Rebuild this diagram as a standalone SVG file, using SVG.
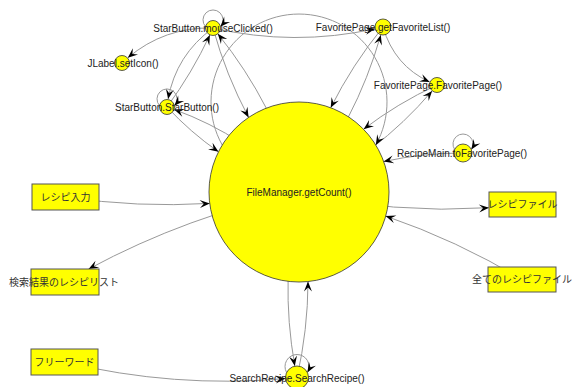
<svg xmlns="http://www.w3.org/2000/svg" width="572" height="387" viewBox="0 0 572 387">
<style>
.e{fill:none;stroke:#999;stroke-width:1;marker-end:url(#arr)}
.n{fill:#ffff00;stroke:#333;stroke-width:0.8}
.r{fill:#ffff00;stroke:#555;stroke-width:1}
.t{font-family:"Liberation Sans",Arial,sans-serif;font-size:10px;fill:#222;text-anchor:middle}
.j{font-family:"Noto Sans CJK JP","Liberation Sans",sans-serif;font-size:10px;fill:#333;text-anchor:middle}
</style>
<defs>
<marker id="arr" markerUnits="userSpaceOnUse" viewBox="-11 -5 12 10" markerWidth="12" markerHeight="10" refX="0" refY="0" orient="auto">
<path d="M0,0 L-10,4 L-6,0 L-10,-4 Z" fill="#000"/>
</marker>
</defs>
<rect width="572" height="387" fill="#fff"/>
<g id="connectors">
<path class="e" d="M213,28 Q164.3,26.9 127.8,57.8"/>
<path class="e" d="M213,28 Q176,55 168.1,99.1"/>
<path class="e" d="M167,107 Q192.1,73 209.9,34.9"/>
<path class="e" d="M213,28 Q226.1,75.2 248.6,117.4"/>
<path class="e" d="M299,192 Q274.7,104.4 217.8,33.8"/>
<path class="e" d="M167,107 Q190.7,132.5 218.5,151.8"/>
<path class="e" d="M299,192 Q246.4,135.5 174.2,109.5"/>
<path class="e" d="M213,28 Q294,46.6 375.1,28.8"/>
<path class="e" d="M299,192 Q356.2,121.8 380.8,34.9"/>
<path class="e" d="M383,27 Q352.1,64.9 330.7,107.8"/>
<path class="e" d="M383,27 Q394.3,65.7 429.7,82"/>
<path class="e" d="M437,85 Q397.4,103.4 363.6,129.2"/>
<path class="e" d="M299,192 Q376.8,155.9 432.1,90.9"/>
<path class="e" d="M463,153 Q422.3,153 383.6,161.6"/>
<path class="e" d="M65.5,197 Q137.8,207.8 209.8,203.4"/>
<path class="e" d="M299,192 Q188.1,215.5 88.6,269"/>
<path class="e" d="M299,192 Q393.1,214.3 489,207.7"/>
<path class="e" d="M522,279.5 Q456.7,240.4 385.6,216"/>
<path class="e" d="M299,192 Q279.3,278.8 294.8,366"/>
<path class="e" d="M297,377.5 Q307.9,329.6 308,281.5"/>
<path class="e" d="M64.5,362 Q173.8,388.3 285.5,378.6"/>
<path class="e" d="M205.6,26.7 A10,10 0 1 1 220.4,26.7"/>
<path class="e" d="M159.6,105.7 A10,10 0 1 1 174.4,105.7"/>
<path class="e" d="M454.7,149.6 A10,10 0 1 1 471.3,149.6"/>
<path class="e" d="M286.6,372.5 A12,12 0 1 1 307.4,372.5"/>
<path class="e" d="M222.2,145 A88,88 0 1 1 375.8,145"/>
</g>
<g id="n-filemanager"><circle class="n" cx="299" cy="192" r="90"/><text class="t" x="299" y="195.5">FileManager.getCount()</text></g>
<g id="n-mouseclicked"><circle class="n" cx="213" cy="28" r="7.5"/><text class="t" x="213" y="32">StarButton.mouseClicked()</text></g>
<g id="n-seticon"><circle class="n" cx="122" cy="63" r="7.5"/><text class="t" x="123" y="67">JLabel.setIcon()</text></g>
<g id="n-starbutton"><circle class="n" cx="167" cy="107" r="7.5"/><text class="t" x="167" y="111">StarButton.StarButton()</text></g>
<g id="n-getfavoritelist"><circle class="n" cx="383" cy="27" r="8"/><text class="t" x="383" y="30.5">FavoritePage.getFavoriteList()</text></g>
<g id="n-favoritepage"><circle class="n" cx="437" cy="85" r="7.5"/><text class="t" x="438" y="89">FavoritePage.FavoritePage()</text></g>
<g id="n-tofavoritepage"><circle class="n" cx="463" cy="153" r="9"/><text class="t" x="462" y="157">RecipeMain.toFavoritePage()</text></g>
<g id="n-searchrecipe"><circle class="n" cx="297" cy="377.5" r="11.5"/><text class="t" x="297" y="382">SearchRecipe.SearchRecipe()</text></g>
<g id="n-recipe-input"><rect class="r" x="32" y="184" width="67" height="26"/><text class="j" x="65.5" y="200.5">レシピ入力</text></g>
<g id="n-result-list"><rect class="r" x="31" y="269" width="68" height="26"/><text class="j" x="64" y="285.5">検索結果のレシピリスト</text></g>
<g id="n-recipe-file"><rect class="r" x="489" y="192" width="67" height="25"/><text class="j" x="522.5" y="208">レシピファイル</text></g>
<g id="n-all-files"><rect class="r" x="488" y="267" width="68" height="25"/><text class="j" x="522" y="283">全てのレシピファイル</text></g>
<g id="n-freeword"><rect class="r" x="31" y="349" width="67" height="26"/><text class="j" x="64.5" y="365.5">フリーワード</text></g>
</svg>
